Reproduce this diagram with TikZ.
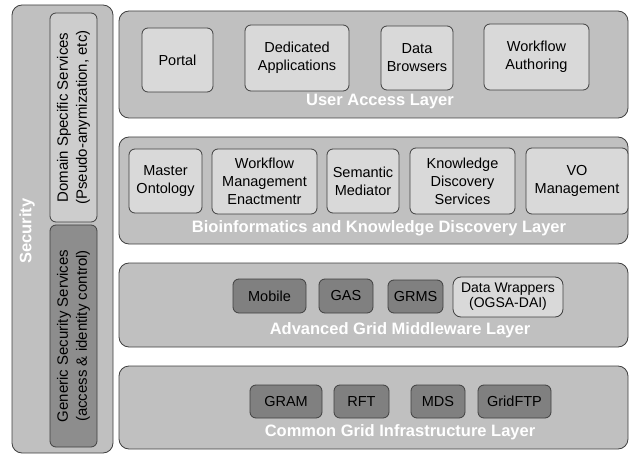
\documentclass[tikz,border=0pt]{standalone}
\usepackage{fontspec}
\setmainfont{Liberation Sans}
\usetikzlibrary{positioning}
\definecolor{layergray}{HTML}{C0C0C0}
\definecolor{boxlight}{HTML}{D9D9D9}
\definecolor{boxdark}{HTML}{808080}
\definecolor{edgegray}{HTML}{404040}

\tikzset{
    layer/.style={draw=edgegray, fill=layergray, rounded corners=10pt, line width=0.8pt, inner sep=0pt},
    lightbox/.style={draw=edgegray, fill=boxlight, rounded corners=6pt, line width=0.8pt, inner sep=0pt,
        align=center, font=\fontsize{14.5}{18}\selectfont},
    darkbox/.style={lightbox, fill=boxdark},
    layerlabel/.style={text=white, font=\fontsize{16.5}{18}\selectfont\bfseries}
}

\begin{document}
\begin{tikzpicture}[x=1pt, y=-1pt]
    \useasboundingbox (0,0) rectangle (629,457);
    % security column
    \node[layer, minimum width=101pt, minimum height=448pt]                  (sec)     at (62.5,229)  {};
    \node[lightbox, fill=layergray!80!white, rotate=90, minimum width=209pt, minimum height=47pt,
          font=\fontsize{15}{19}\selectfont]                                 (domain)  at (73.5,117.5) {Domain Specific Services\\(Pseudo-anymization, etc)};
    \node[darkbox, fill=boxdark!80!layergray, rotate=90, minimum width=222pt, minimum height=47pt,
          font=\fontsize{15}{19}\selectfont]                                 (generic) at (73.5,336)  {Generic Security Services\\(access \& identity control)};
    \node[layerlabel, rotate=90]                                              (seclbl)  at (27,231)    {Security};

    % layers
    \node[layer, minimum width=509pt, minimum height=107pt] (user)   at (373.5,64.5)  {};
    \node[layer, minimum width=509pt, minimum height=107pt] (bio)    at (373.5,190.5) {};
    \node[layer, minimum width=509pt, minimum height=84pt]  (mid)    at (373.5,305)   {};
    \node[layer, minimum width=509pt, minimum height=83pt]  (infra)  at (373.5,407.5) {};

    % user access layer
    \node[lightbox, minimum width=71pt,  minimum height=64pt] (portal)   at (177.5,60) {Portal};
    \node[lightbox, minimum width=104pt, minimum height=66pt] (dedapps)  at (297,58)   {Dedicated\\Applications};
    \node[lightbox, minimum width=72pt,  minimum height=64pt] (browsers) at (417,58)   {Data\\Browsers};
    \node[lightbox, minimum width=105pt, minimum height=66pt] (wfauth)   at (536.5,57) {Workflow\\Authoring};
    \node[layerlabel] (userlbl) at (380,102) {User Access Layer};

    % bioinformatics layer
    \node[lightbox, minimum width=73pt,  minimum height=64pt] (ontology) at (165.5,181)   {Master\\Ontology};
    \node[lightbox, minimum width=105pt, minimum height=65pt] (wfmgmt)   at (264.5,181.5) {Workflow\\Management\\Enactmentr};
    \node[lightbox, minimum width=72pt,  minimum height=64pt] (mediator) at (363,181)     {Semantic\\Mediator};
    \node[lightbox, minimum width=105pt, minimum height=66pt] (kds)      at (462.5,181)   {Knowledge\\Discovery\\Services};
    \node[lightbox, minimum width=102pt, minimum height=66pt] (vomgmt)   at (577,181)     {VO\\Management};
    \node[layerlabel] (biolbl) at (379,228) {Bioinformatics and Knowledge Discovery Layer};

    % middleware layer
    \node[darkbox, minimum width=73pt, minimum height=34pt] (mobile)   at (269.5,296)   {Mobile};
    \node[darkbox, minimum width=54pt, minimum height=34pt] (gas)      at (346,296)     {GAS};
    \node[darkbox, minimum width=55pt, minimum height=33pt] (grms)     at (415.5,296.5) {GRMS};
    \node[lightbox, minimum width=110pt, minimum height=40pt, rounded corners=8pt,
          font=\fontsize{14}{15}\selectfont]                 (wrappers) at (508,297)     {Data Wrappers\\(OGSA-DAI)};
    \node[layerlabel] (midlbl) at (400,330) {Advanced Grid Middleware Layer};

    % infrastructure layer
    \node[darkbox, minimum width=72pt, minimum height=33pt] (gram)    at (286,401.5)   {GRAM};
    \node[darkbox, minimum width=55pt, minimum height=33pt] (rft)     at (361.5,401.5) {RFT};
    \node[darkbox, minimum width=54pt, minimum height=33pt] (mds)     at (438,401.5)   {MDS};
    \node[darkbox, minimum width=73pt, minimum height=33pt] (gridftp) at (514.5,401.5) {GridFTP};
    \node[layerlabel] (infralbl) at (400,432) {Common Grid Infrastructure Layer};
\end{tikzpicture}
\end{document}
